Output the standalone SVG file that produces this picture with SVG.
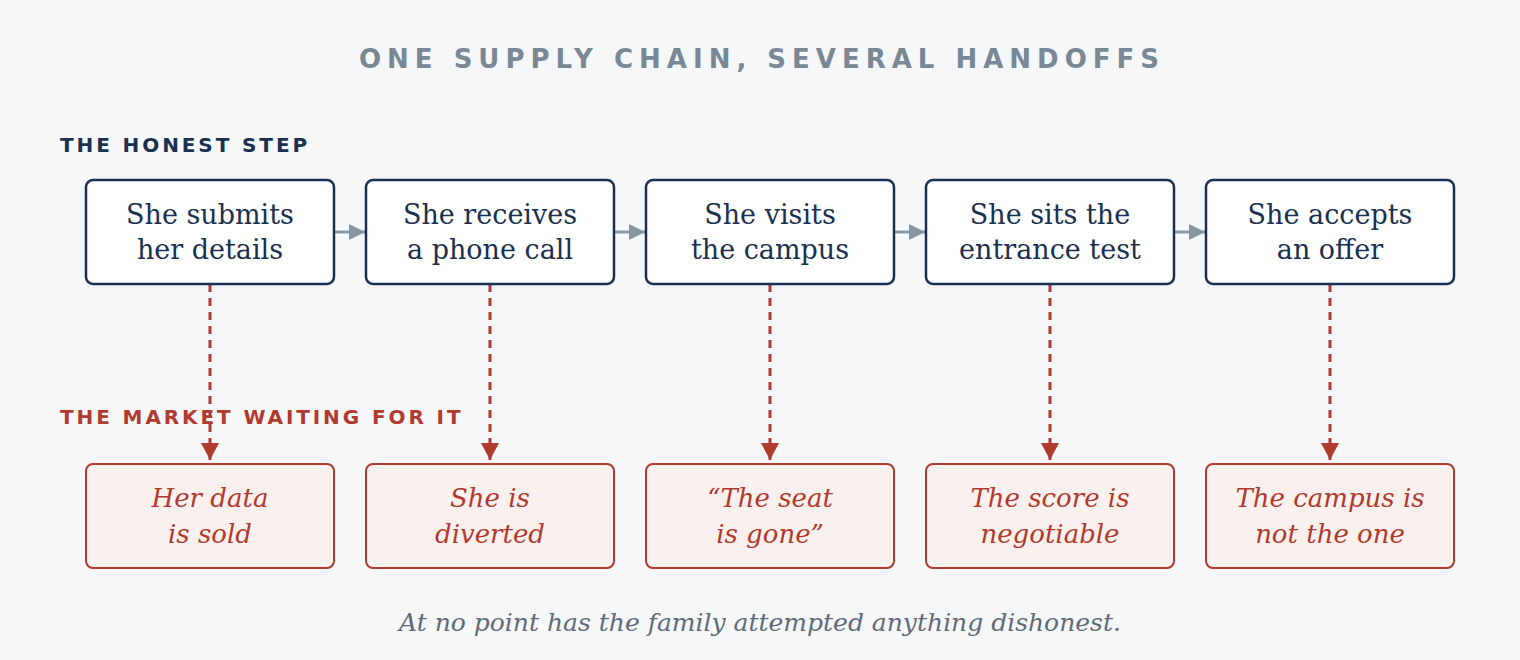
<svg xmlns="http://www.w3.org/2000/svg" width="1520" height="660" viewBox="0 0 1520 660">
<style>
.title{font-family:"DejaVu Sans",sans-serif;font-weight:bold;font-size:26px;letter-spacing:6px;fill:#7a8896;text-anchor:middle}
.sec{font-family:"DejaVu Sans",sans-serif;font-weight:bold;font-size:20px;letter-spacing:2.9px}
.step rect{fill:#ffffff;stroke:#1a3050;stroke-width:2.5}
.step text{font-family:"DejaVu Serif",serif;font-size:27px;fill:#1a3050;text-anchor:middle}
.mk rect{fill:#faf0ee;stroke:#b03a2e;stroke-width:2}
.mk text{font-family:"DejaVu Serif",serif;font-style:italic;font-size:26px;fill:#b03a2e;text-anchor:middle}
.flow{stroke:#8a96a4;stroke-width:3;fill:none}
.drop{stroke:#b03a2e;stroke-width:3;stroke-dasharray:8 6;fill:none}
.foot{font-family:"DejaVu Serif",serif;font-style:italic;font-size:25px;fill:#5f6b7a;text-anchor:middle}
</style>
<defs>
<marker id="ag" markerUnits="userSpaceOnUse" markerWidth="18" markerHeight="18" refX="16" refY="9" orient="auto"><path d="M0,1 L16,9 L0,17 Z" fill="#8a96a4"/></marker>
<marker id="ar" markerUnits="userSpaceOnUse" markerWidth="18" markerHeight="18" refX="17" refY="9" orient="auto"><path d="M0,0 L17,9 L0,18 Z" fill="#b03a2e"/></marker>
</defs>
<rect width="1520" height="660" fill="#f6f7f9"/>
<text class="title" x="762" y="68">ONE SUPPLY CHAIN, SEVERAL HANDOFFS</text>
<text class="sec" x="60" y="152" fill="#1a3050">THE HONEST STEP</text>
<g id="connectors">
<path class="flow" d="M334,232 H365" marker-end="url(#ag)"/>
<path class="flow" d="M614,232 H645" marker-end="url(#ag)"/>
<path class="flow" d="M894,232 H925" marker-end="url(#ag)"/>
<path class="flow" d="M1174,232 H1205" marker-end="url(#ag)"/>
<path class="drop" d="M210,284 V460" marker-end="url(#ar)"/>
<path class="drop" d="M490,284 V460" marker-end="url(#ar)"/>
<path class="drop" d="M770,284 V460" marker-end="url(#ar)"/>
<path class="drop" d="M1050,284 V460" marker-end="url(#ar)"/>
<path class="drop" d="M1330,284 V460" marker-end="url(#ar)"/>
</g>
<text class="sec" x="60" y="424" fill="#b03a2e">THE MARKET WAITING FOR IT</text>
<g id="s1" class="step"><rect x="86" y="180" width="248" height="104" rx="7"/><text x="210" y="224">She submits</text><text x="210" y="259">her details</text></g>
<g id="s2" class="step"><rect x="366" y="180" width="248" height="104" rx="7"/><text x="490" y="224">She receives</text><text x="490" y="259">a phone call</text></g>
<g id="s3" class="step"><rect x="646" y="180" width="248" height="104" rx="7"/><text x="770" y="224">She visits</text><text x="770" y="259">the campus</text></g>
<g id="s4" class="step"><rect x="926" y="180" width="248" height="104" rx="7"/><text x="1050" y="224">She sits the</text><text x="1050" y="259">entrance test</text></g>
<g id="s5" class="step"><rect x="1206" y="180" width="248" height="104" rx="7"/><text x="1330" y="224">She accepts</text><text x="1330" y="259">an offer</text></g>
<g id="m1" class="mk"><rect x="86" y="464" width="248" height="104" rx="7"/><text x="210" y="507">Her data</text><text x="210" y="543">is sold</text></g>
<g id="m2" class="mk"><rect x="366" y="464" width="248" height="104" rx="7"/><text x="490" y="507">She is</text><text x="490" y="543">diverted</text></g>
<g id="m3" class="mk"><rect x="646" y="464" width="248" height="104" rx="7"/><text x="770" y="507">“The seat</text><text x="770" y="543">is gone”</text></g>
<g id="m4" class="mk"><rect x="926" y="464" width="248" height="104" rx="7"/><text x="1050" y="507">The score is</text><text x="1050" y="543">negotiable</text></g>
<g id="m5" class="mk"><rect x="1206" y="464" width="248" height="104" rx="7"/><text x="1330" y="507">The campus is</text><text x="1330" y="543">not the one</text></g>
<text class="foot" x="760" y="631">At no point has the family attempted anything dishonest.</text>
</svg>
